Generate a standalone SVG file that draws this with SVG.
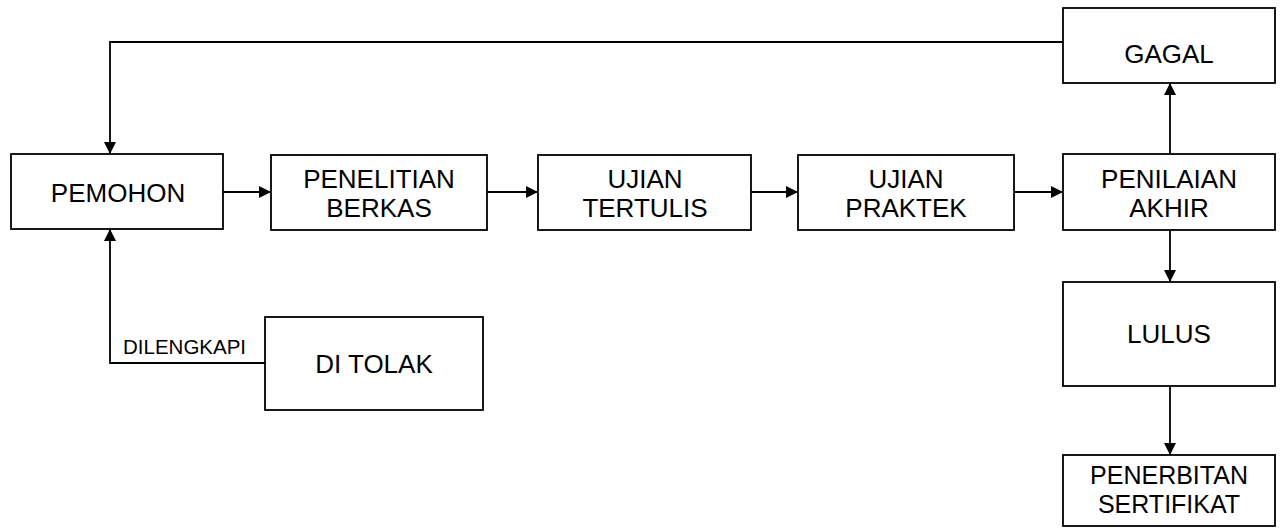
<svg xmlns="http://www.w3.org/2000/svg" width="1286" height="529" viewBox="0 0 1286 529">
<style>
.box{fill:#fff;stroke:#000;stroke-width:1.8}
.t{font-family:"Liberation Sans",Arial,sans-serif;font-size:26px;fill:#000;text-anchor:middle}
.t2{font-size:25px}
.s{font-family:"Liberation Sans",Arial,sans-serif;font-size:20.5px;fill:#000}
.c{fill:none;stroke:#000;stroke-width:1.8}
</style>
<defs>
<marker id="ah" markerUnits="userSpaceOnUse" markerWidth="13" markerHeight="13" refX="12" refY="6" orient="auto">
<path d="M0,0 L12,6 L0,12 z" fill="#000"/>
</marker>
</defs>
<rect width="1286" height="529" fill="#fff"/>
<g id="connectors">
<path class="c" d="M1063,42 H110 V154" marker-end="url(#ah)"/>
<path class="c" d="M223,192 H271" marker-end="url(#ah)"/>
<path class="c" d="M487,192 H538" marker-end="url(#ah)"/>
<path class="c" d="M751,192 H798" marker-end="url(#ah)"/>
<path class="c" d="M1014,192 H1063" marker-end="url(#ah)"/>
<path class="c" d="M1170,154 V83" marker-end="url(#ah)"/>
<path class="c" d="M1170,230 V282" marker-end="url(#ah)"/>
<path class="c" d="M1170,386 V455" marker-end="url(#ah)"/>
<path class="c" d="M265,363 H110 V229" marker-end="url(#ah)"/>
<text class="s" x="123" y="354">DILENGKAPI</text>
</g>
<g id="pemohon"><rect class="box" x="11" y="154" width="212" height="75"/><text class="t" x="118" y="202">PEMOHON</text></g>
<g id="penelitian"><rect class="box" x="271" y="155" width="216" height="75"/><text class="t" x="379" y="188">PENELITIAN</text><text class="t" x="379" y="217">BERKAS</text></g>
<g id="tertulis"><rect class="box" x="538" y="155" width="213" height="75"/><text class="t" x="645" y="188">UJIAN</text><text class="t" x="645" y="217">TERTULIS</text></g>
<g id="praktek"><rect class="box" x="798" y="155" width="216" height="75"/><text class="t" x="906" y="188">UJIAN</text><text class="t" x="906" y="217">PRAKTEK</text></g>
<g id="penilaian"><rect class="box" x="1063" y="154" width="212" height="76"/><text class="t" x="1169" y="188">PENILAIAN</text><text class="t" x="1169" y="217">AKHIR</text></g>
<g id="gagal"><rect class="box" x="1063" y="8" width="212" height="75"/><text class="t" x="1169" y="63">GAGAL</text></g>
<g id="lulus"><rect class="box" x="1063" y="282" width="212" height="104"/><text class="t" x="1169" y="343">LULUS</text></g>
<g id="penerbitan"><rect class="box" x="1063" y="455" width="212" height="71"/><text class="t t2" x="1169" y="484">PENERBITAN</text><text class="t t2" x="1169" y="513">SERTIFIKAT</text></g>
<g id="ditolak"><rect class="box" x="265" y="317" width="218" height="93"/><text class="t" x="374" y="373">DI TOLAK</text></g>
</svg>
